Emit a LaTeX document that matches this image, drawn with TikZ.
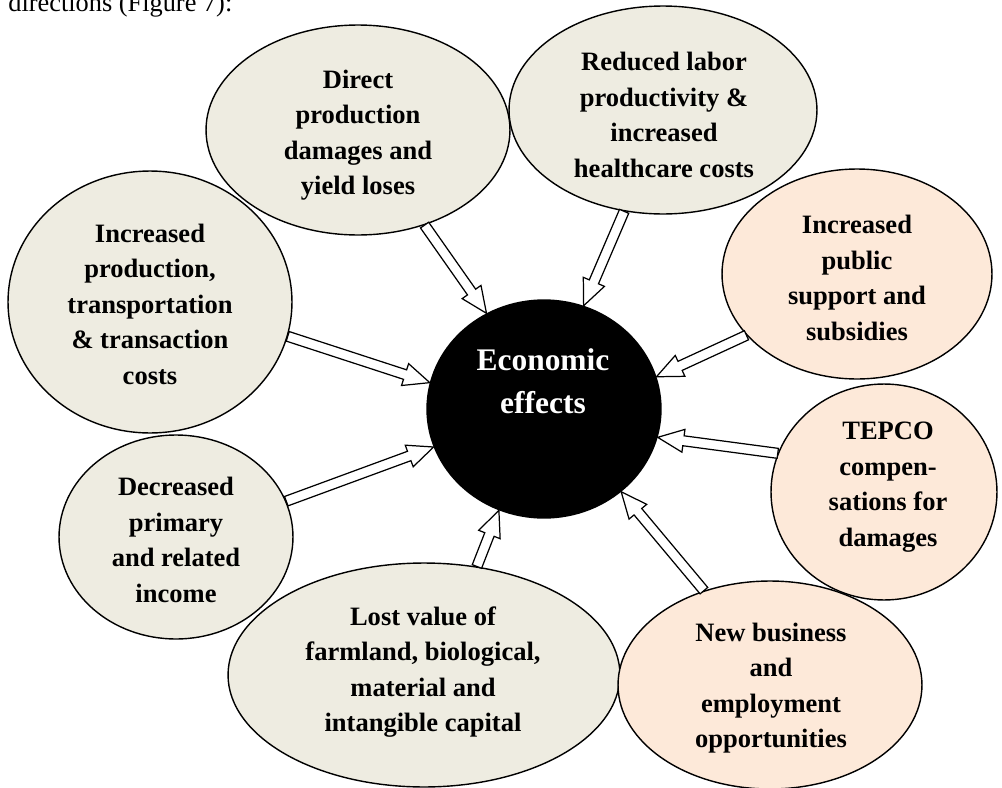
\documentclass[tikz,border=0pt]{standalone}
\usepackage{fontspec}
\setmainfont{Liberation Serif}
\usetikzlibrary{shapes.geometric, calc}
\definecolor{losscolor}{RGB}{238, 236, 225}
\definecolor{gaincolor}{RGB}{253, 233, 217}

% hollow block arrow from #1 (tail) to #2 (tip)
\newcommand{\effectarrow}[2]{%
  \coordinate (hb) at ($(#2)!0.52cm!(#1)$);
  \draw[arrowline] ($(#1)!0.1cm!90:(#2)$) -- ($(hb)!0.1cm!90:(#2)$) -- ($(hb)!0.23cm!90:(#2)$) -- (#2)
    -- ($(hb)!0.23cm!-90:(#2)$) -- ($(hb)!0.1cm!-90:(#2)$) -- ($(#1)!0.1cm!-90:(#2)$) -- cycle;
}

\begin{document}
\begin{tikzpicture}[
    x=0.02cm, y=-0.02cm,
    bubble/.style={draw, ellipse, line width=0.8pt, inner sep=0pt},
    loss/.style={bubble, fill=losscolor},
    gain/.style={bubble, fill=gaincolor},
    txt/.style={font=\bfseries\fontsize{15.1}{20.2}\selectfont, align=center, inner sep=0pt},
    arrowline/.style={fill=white, line width=0.7pt, line join=miter},
]
    \path[use as bounding box, clip] (0,0) rectangle (1002,788);

    % Intro line (cut at the top)
    \node[font=\fontsize{15}{18}\selectfont, anchor=base west, inner sep=0pt] (intro) at (8,11) {directions (Figure 7):};

    % Negative effects
    \node[loss, minimum width=5.68cm, minimum height=5.24cm] (incprod) at (150,302) {};
    \node[txt] (incprod-t) at (150,304) {Increased\\production,\\transportation\\\& transaction\\costs};

    \node[loss, minimum width=6.08cm, minimum height=4.2cm] (direct) at (358,130) {};
    \node[txt] (direct-t) at (358,135) {Direct\\production\\damages and\\yield loses};

    \node[loss, minimum width=6.16cm, minimum height=4.16cm] (labor) at (663,110) {};
    \node[txt] (labor-t) at (664,115) {Reduced labor\\productivity \&\\increased\\healthcare costs};

    \node[loss, minimum width=4.68cm, minimum height=4.08cm] (income) at (176,537) {};
    \node[txt] (income-t) at (176,540) {Decreased\\primary\\and related\\income};

    \node[loss, minimum width=7.84cm, minimum height=4.48cm] (capital) at (424,675) {};
    \node[txt] (capital-t) at (423,672) {Lost value of\\farmland, biological,\\material and\\intangible capital};

    % Positive effects
    \node[gain, minimum width=5.4cm, minimum height=4.2cm] (support) at (857,274) {};
    \node[txt] (support-t) at (857,278) {Increased\\public\\support and\\subsidies};

    \node[gain, minimum width=4.52cm, minimum height=4.32cm] (tepco) at (884,492) {};
    \node[txt] (tepco-t) at (888,487) {TEPCO\\compen-\\sations for\\damages};

    \node[gain, minimum width=6.08cm, minimum height=4.16cm] (business) at (770,685) {};
    \node[txt] (business-t) at (771,688) {New business\\and\\employment\\opportunities};

    % Centre
    \node[bubble, fill=black, minimum width=4.68cm, minimum height=4.36cm] (eco) at (544,409) {};
    \node[txt, text=white, font=\bfseries\fontsize{17.9}{24.4}\selectfont] (eco-t) at (543,381) {Economic\\effects};

    % Arrows
    \effectarrow{direct.305}{eco.121}
    \effectarrow{labor.249}{eco.69}
    \effectarrow{incprod.346}{eco.167}
    \effectarrow{income.18}{eco.199}
    \effectarrow{capital.64}{eco.246}
    \effectarrow{support.209}{eco.16}
    \effectarrow{tepco.160}{eco.346}
    \effectarrow{business.125}{eco.313}
\end{tikzpicture}
\end{document}
